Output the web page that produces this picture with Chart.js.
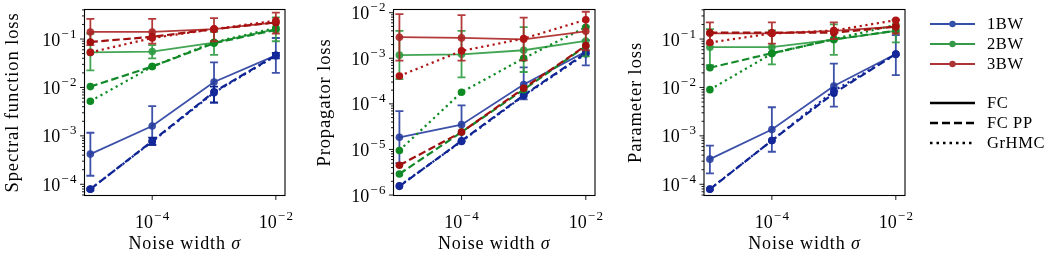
<!DOCTYPE html>
<html>
<head>
<meta charset="utf-8">
<script src="https://cdn.jsdelivr.net/npm/chart.js@4/dist/chart.umd.min.js"></script>
<style>
  body { margin: 0; background: #fff; width: 1056px; height: 257px; overflow: hidden; position: relative; }
  canvas { position: absolute; top: 0; }
</style>
</head>
<body>
<canvas id="c1" width="300" height="257" style="left:0px"></canvas>
<canvas id="c2" width="310" height="257" style="left:300px"></canvas>
<canvas id="c3" width="446" height="257" style="left:610px"></canvas>
<script>
// data
const sigma = [1e-5, 1e-4, 1e-3, 1e-2];
const models = ['1BW', '2BW', '3BW'];
const methods = ['FC', 'FC PP', 'GrHMC'];
const xTickValues = [1e-4, 1e-2];

// spectral function loss
const spec1FC = [4.2e-4, 1.6e-3, 0.013, 0.046];
const spec1FCLo = [1.5e-4, 6.5e-4, 4.8e-3, 0.020];
const spec1FCHi = [1.16e-3, 4.1e-3, 0.033, 0.105];
const spec1PP = [7.9e-5, 7.8e-4, 8.1e-3, 0.046];
const spec1PPLo = [7.5e-5, 6.5e-4, 4.9e-3, 0.040];
const spec1PPHi = [8.3e-5, 9.2e-4, 0.0104, 0.052];
const spec1GR = [8.0e-5, 7.6e-4, 7.8e-3, 0.045];
const spec2FC = [0.053, 0.055, 0.084, 0.16];
const spec2FCLo = [0.0225, 0.04, 0.047, 0.09];
const spec2FCHi = [0.13, 0.075, 0.14, 0.28];
const spec2PP = [0.0104, 0.027, 0.082, 0.155];
const spec2GR = [5.2e-3, 0.027, 0.086, 0.17];
const spec3FC = [0.14, 0.14, 0.16, 0.22];
const spec3FCLo = [0.075, 0.08, 0.09, 0.13];
const spec3FCHi = [0.26, 0.26, 0.27, 0.35];
const spec3PP = [0.087, 0.111, 0.16, 0.22];
const spec3GR = [0.053, 0.105, 0.16, 0.24];

// propagator loss
const prop1FC = [1.85e-5, 3.5e-5, 2.65e-4, 1.4e-3];
const prop1FCLo = [5e-6, 1.5e-5, 1.25e-4, 7e-4];
const prop1FCHi = [6.9e-5, 9.3e-5, 6.3e-4, 2.5e-3];
const prop1PP = [1.55e-6, 1.55e-5, 1.55e-4, 1.3e-3];
const prop1GR = [1.6e-6, 1.5e-5, 1.5e-4, 1.25e-3];
const prop2FC = [1.17e-3, 1.22e-3, 1.5e-3, 2.4e-3];
const prop2FCLo = [3.5e-4, 3.8e-4, 5e-4, 1.1e-3];
const prop2FCHi = [4.0e-3, 4.0e-3, 4.8e-3, 5e-3];
const prop2PP = [2.9e-6, 2.4e-5, 2.05e-4, 1.85e-3];
const prop2GR = [9.5e-6, 1.8e-4, 1.0e-3, 4.8e-3];
const prop3FC = [2.9e-3, 2.8e-3, 2.6e-3, 3.9e-3];
const prop3FCLo = [8.9e-4, 8.9e-4, 9e-4, 1.5e-3];
const prop3FCHi = [9.3e-3, 8.8e-3, 7.8e-3, 1.05e-2];
const prop3PP = [4.5e-6, 2.4e-5, 2.2e-4, 1.9e-3];
const prop3GR = [4.1e-4, 1.45e-3, 2.7e-3, 7.0e-3];

// parameter loss
const par1FC = [3.3e-4, 1.35e-3, 0.0107, 0.049];
const par1FCLo = [1.68e-4, 4.7e-4, 4.0e-3, 0.018];
const par1FCHi = [6.3e-4, 3.9e-3, 0.031, 0.12];
const par1PP = [7.9e-5, 8.0e-4, 7.6e-3, 0.049];
const par1GR = [8.0e-5, 8.0e-4, 8.5e-3, 0.048];
const par2FC = [0.068, 0.068, 0.097, 0.148];
const par2FCLo = [0.029, 0.03, 0.047, 0.085];
const par2FCHi = [0.16, 0.15, 0.2, 0.25];
const par2PP = [0.0255, 0.051, 0.098, 0.148];
const par2GR = [9.0e-3, 0.05, 0.1, 0.195];
const par3FC = [0.131, 0.131, 0.148, 0.18];
const par3FCLo = [0.08, 0.08, 0.1, 0.13];
const par3FCHi = [0.22, 0.22, 0.22, 0.25];
const par3PP = [0.135, 0.135, 0.135, 0.18];
const par3GR = [0.085, 0.13, 0.15, 0.245];

// colours per model: [FC, FC PP, GrHMC]
const colors = {
  '1BW': ['rgba(40,62,160,0.9)', '#0c2290', '#14289a'],
  '2BW': ['rgba(44,155,64,0.9)', '#13892a', '#0e8a22'],
  '3BW': ['rgba(172,38,38,0.9)', '#a0100f', '#b01515']
};
const legendColors = ['#3550aa', '#35994a', '#ad3535'];

const serif = '"Liberation Serif", "DejaVu Serif", serif';

function mkSet(model, mi, values, lo, hi) {
  const c = colors[model][mi];
  return {
    label: model + ' ' + methods[mi],
    data: sigma.map((s, i) => ({x: s, y: values[i]})),
    errLo: lo || null,
    errHi: hi || null,
    borderColor: c,
    backgroundColor: c,
    pointBackgroundColor: c,
    pointBorderWidth: 0,
    pointRadius: 3.8,
    borderWidth: mi === 0 ? 1.8 : 2.2,
    borderDash: mi === 0 ? [] : (mi === 1 ? [7.5, 3.5] : [2.2, 3.6]),
    tension: 0
  };
}

function drawPow(ctx, exp, x, y, align) {
  // "10" with superscript exponent; y is baseline of "10"
  ctx.save();
  ctx.letterSpacing = '0px';
  ctx.font = '18px ' + serif;
  const wb = ctx.measureText('10').width;
  ctx.font = '13px ' + serif;
  const wm = ctx.measureText('\u2212').width;
  const wd = ctx.measureText(exp).width;
  const w = wb + 1 + wm + 1.5 + wd;
  const x0 = align === 'center' ? x - w / 2 : x - w;
  ctx.textAlign = 'left';
  ctx.textBaseline = 'alphabetic';
  ctx.font = '18px ' + serif;
  ctx.fillText('10', x0, y);
  ctx.font = '13px ' + serif;
  ctx.fillText('\u2212', x0 + wb + 1, y - 8);
  ctx.fillText(exp, x0 + wb + 1 + wm + 1.5, y - 8);
  ctx.restore();
}

const decor = {
  id: 'decor',
  afterDatasetDraw(chart, args) {
    const ds = chart.data.datasets[args.index];
    if (!ds.errLo) return;
    const {ctx} = chart;
    const xs = chart.scales.x, ys = chart.scales.y;
    ctx.save();
    ctx.strokeStyle = ds.borderColor;
    ctx.lineWidth = 1.8;
    ctx.setLineDash([]);
    ds.data.forEach((p, i) => {
      if (ds.errLo[i] == null) return;
      const px = xs.getPixelForValue(p.x);
      const y1 = ys.getPixelForValue(ds.errLo[i]);
      const y2 = ys.getPixelForValue(ds.errHi[i]);
      ctx.beginPath();
      ctx.moveTo(px, y1); ctx.lineTo(px, y2);
      ctx.moveTo(px - 4, y1); ctx.lineTo(px + 4, y1);
      ctx.moveTo(px - 4, y2); ctx.lineTo(px + 4, y2);
      ctx.stroke();
    });
    ctx.restore();
  },
  afterDraw(chart, args, opts) {
    const {ctx, chartArea: a} = chart;
    const xs = chart.scales.x, ys = chart.scales.y;
    ctx.save();
    ctx.strokeStyle = '#000';
    ctx.fillStyle = '#000';
    ctx.lineWidth = 1.1;
    ctx.strokeRect(a.left, a.top, a.right - a.left, a.bottom - a.top);

    // y ticks (log decades + minor)
    const lo = Math.floor(Math.log10(ys.min)), hi = Math.ceil(Math.log10(ys.max));
    ctx.lineWidth = 0.9;
    for (let d = lo; d <= hi; d++) {
      for (let m = 1; m <= 9; m++) {
        const v = m * Math.pow(10, d);
        if (v < ys.min || v > ys.max) continue;
        const py = ys.getPixelForValue(v);
        const len = m === 1 ? 4.5 : 2.5;
        ctx.beginPath();
        ctx.moveTo(a.left, py); ctx.lineTo(a.left - len, py);
        ctx.stroke();
        if (m === 1) drawPow(ctx, String(-d), a.left - 8, py + 6.5, 'right');
      }
    }
    // x ticks
    xTickValues.forEach(v => {
      const px = xs.getPixelForValue(v);
      ctx.beginPath();
      ctx.moveTo(px, a.bottom); ctx.lineTo(px, a.bottom + 4.5);
      ctx.stroke();
      drawPow(ctx, String(-Math.round(Math.log10(v))), px, a.bottom + 32, 'center');
    });

    // axis titles
    ctx.letterSpacing = '0.9px';
    const cx = (a.left + a.right) / 2;
    const t1 = 'Noise width ';
    ctx.font = '18px ' + serif;
    const w1 = ctx.measureText(t1).width;
    ctx.font = 'italic 18px ' + serif;
    const w2 = ctx.measureText('\u03c3').width;
    ctx.textAlign = 'left';
    ctx.textBaseline = 'alphabetic';
    ctx.font = '18px ' + serif;
    ctx.fillText(t1, cx - (w1 + w2) / 2, 249);
    ctx.font = 'italic 18px ' + serif;
    ctx.fillText('\u03c3', cx - (w1 + w2) / 2 + w1, 249);

    ctx.save();
    ctx.translate(opts.yTitleX, (a.top + a.bottom) / 2);
    ctx.rotate(-Math.PI / 2);
    ctx.textAlign = 'center';
    ctx.textBaseline = 'middle';
    ctx.font = '18.5px ' + serif;
    ctx.fillText(opts.yTitle, 0, 0);
    ctx.restore();

    if (opts.legend) {
      const lx = 320, lw = 45, tx = 377;
      ctx.letterSpacing = '0.6px';
      ctx.textBaseline = 'middle';
      ctx.textAlign = 'left';
      ctx.font = '16.5px ' + serif;
      models.forEach((m, i) => {
        const y = 24 + i * 20;
        ctx.strokeStyle = legendColors[i];
        ctx.fillStyle = legendColors[i];
        ctx.lineWidth = 2;
        ctx.setLineDash([]);
        ctx.beginPath(); ctx.moveTo(lx, y); ctx.lineTo(lx + lw, y); ctx.stroke();
        ctx.beginPath(); ctx.arc(lx + lw / 2, y, 3.2, 0, Math.PI * 2); ctx.fill();
        ctx.fillStyle = '#000';
        ctx.fillText(m, tx, y + 1);
      });
      const dashes = [[], [8, 4], [2.5, 4]];
      methods.forEach((m, i) => {
        const y = 103 + i * 20;
        ctx.strokeStyle = '#000';
        ctx.lineWidth = 2.4;
        ctx.setLineDash(dashes[i]);
        ctx.beginPath(); ctx.moveTo(lx, y); ctx.lineTo(lx + lw, y); ctx.stroke();
        ctx.setLineDash([]);
        ctx.fillStyle = '#000';
        ctx.fillText(m, tx, y + 1);
      });
    }
    ctx.restore();
  }
};

function makePanel(id, sets, yMin, yMax, yWidth, padRight, yTitle, yTitleX, legend) {
  const datasets = [];
  sets.forEach((s, i) => datasets.push(Object.assign(mkSet(s[0], s[1], s[2], s[3], s[4]), {order: 100 - i})));
  return new Chart(document.getElementById(id), {
    type: 'line',
    data: {datasets},
    options: {
      responsive: false,
      animation: false,
      devicePixelRatio: 1,
      layout: {padding: {top: 9.5, right: padRight, left: 0, bottom: 0}},
      plugins: {
        legend: {display: false},
        tooltip: {enabled: false},
        decor: {yTitle, yTitleX, legend}
      },
      scales: {
        x: {
          type: 'logarithmic',
          min: Math.pow(10, -5.095),
          max: Math.pow(10, -1.852),
          grid: {display: false},
          border: {display: false},
          ticks: {display: false},
          afterFit: s => { s.height = 257 - 195.5; }
        },
        y: {
          type: 'logarithmic',
          min: yMin,
          max: yMax,
          grid: {display: false},
          border: {display: false},
          ticks: {display: false},
          afterFit: s => { s.width = yWidth; }
        }
      }
    },
    plugins: [decor]
  });
}

makePanel('c1', [
  ['1BW', 0, spec1FC, spec1FCLo, spec1FCHi],
  ['1BW', 1, spec1PP, spec1PPLo, spec1PPHi],
  ['1BW', 2, spec1GR],
  ['2BW', 0, spec2FC, spec2FCLo, spec2FCHi],
  ['2BW', 1, spec2PP],
  ['2BW', 2, spec2GR],
  ['3BW', 0, spec3FC, spec3FCLo, spec3FCHi],
  ['3BW', 1, spec3PP],
  ['3BW', 2, spec3GR]
], Math.pow(10, -4.232), Math.pow(10, -0.39), 84.5, 15, 'Spectral function loss', 13, false);

makePanel('c2', [
  ['1BW', 0, prop1FC, prop1FCLo, prop1FCHi],
  ['1BW', 1, prop1PP],
  ['1BW', 2, prop1GR],
  ['2BW', 0, prop2FC, prop2FCLo, prop2FCHi],
  ['2BW', 1, prop2PP],
  ['2BW', 2, prop2GR],
  ['3BW', 0, prop3FC, prop3FCLo, prop3FCHi],
  ['3BW', 1, prop3PP],
  ['3BW', 2, prop3GR]
], Math.pow(10, -6.01), Math.pow(10, -1.93), 93.5, 15, 'Propagator loss', 25, false);

makePanel('c3', [
  ['1BW', 0, par1FC, par1FCLo, par1FCHi],
  ['1BW', 1, par1PP],
  ['1BW', 2, par1GR],
  ['2BW', 0, par2FC, par2FCLo, par2FCHi],
  ['2BW', 1, par2PP],
  ['2BW', 2, par2GR],
  ['3BW', 0, par3FC, par3FCLo, par3FCHi],
  ['3BW', 1, par3PP],
  ['3BW', 2, par3GR]
], Math.pow(10, -4.232), Math.pow(10, -0.39), 94, 151, 'Parameter loss', 26, true);
</script>
</body>
</html>
